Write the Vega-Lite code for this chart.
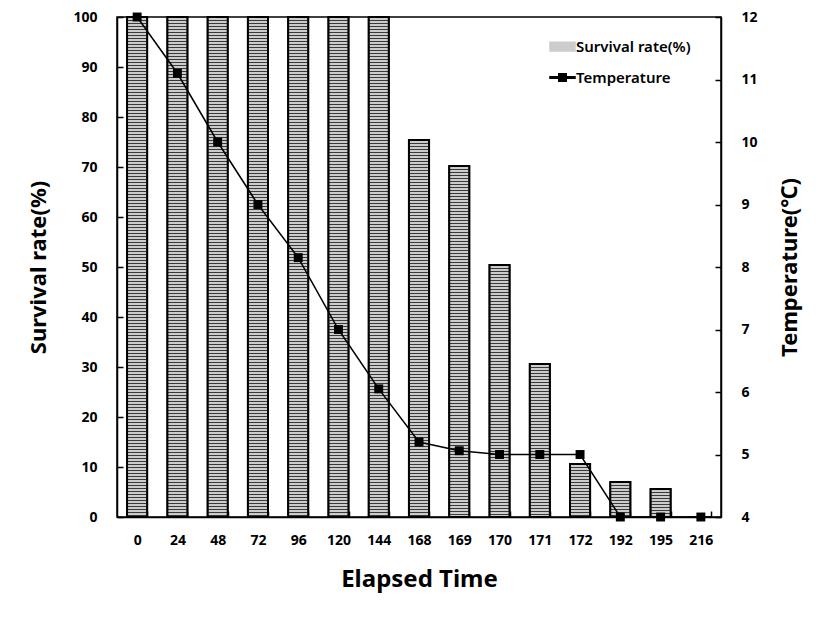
{
  "$schema": "https://vega.github.io/schema/vega-lite/v6.json",
  "width": 604,
  "height": 500,
  "autosize": {"type": "none"},
  "padding": {"left": 117, "top": 17, "right": 106, "bottom": 103},
  "background": "white",
  "config": {
    "view": {"stroke": "black", "strokeWidth": 1.5},
    "font": "Noto Sans",
    "axis": {
      "domainColor": "black",
      "domainWidth": 1.5,
      "tickColor": "black",
      "tickWidth": 1.5,
      "ticks": true,
      "zindex": 1,
      "labelColor": "black",
      "labelFont": "Noto Sans",
      "labelFontWeight": "bold",
      "labelFontSize": 14,
      "titleFont": "Noto Sans",
      "titleFontWeight": "bold",
      "titleFontSize": 22,
      "titleColor": "black",
      "grid": false
    }
  },
  "data": {
    "values": [
      {"time": "0", "survival": 100, "temp": 12},
      {"time": "24", "survival": 100, "temp": 11.1},
      {"time": "48", "survival": 100, "temp": 10},
      {"time": "72", "survival": 100, "temp": 9},
      {"time": "96", "survival": 100, "temp": 8.15},
      {"time": "120", "survival": 100, "temp": 7},
      {"time": "144", "survival": 100, "temp": 6.05},
      {"time": "168", "survival": 75.4, "temp": 5.2},
      {"time": "169", "survival": 70.2, "temp": 5.06},
      {"time": "170", "survival": 50.4, "temp": 5},
      {"time": "171", "survival": 30.6, "temp": 5},
      {"time": "172", "survival": 10.6, "temp": 5},
      {"time": "192", "survival": 7, "temp": 4},
      {"time": "195", "survival": 5.6, "temp": 4},
      {"time": "216", "survival": 0, "temp": 4}
    ]
  },
  "encoding": {
    "x": {
      "field": "time",
      "type": "ordinal",
      "sort": null,
      "scale": {"paddingInner": 0.5, "paddingOuter": 0.25},
      "axis": {
        "title": "Elapsed Time",
        "titleFontSize": 24,
        "titlePadding": 20,
        "labelAngle": 0,
        "tickBand": "extent",
        "tickSize": -6,
        "labelPadding": 22
      }
    }
  },
  "layer": [
    {
      "layer": [
        {
          "mark": {"type": "bar", "stroke": "black", "strokeWidth": 1.5},
          "encoding": {
            "color": {
              "datum": "Survival rate(%)",
              "type": "nominal",
              "scale": {"domain": ["Survival rate(%)", "Temperature"], "range": ["#cccccc", "black"]},
              "legend": {
                "title": null,
                "orient": "none",
                "legendX": 432,
                "legendY": 16,
                "labelFont": "Noto Sans",
                "labelFontSize": 15,
                "labelFontWeight": 600,
                "labelColor": "black",
                "rowPadding": 9,
                "symbolSize": 625,
                "symbolStrokeColor": "black",
                "symbolStrokeWidth": 1.5,
                "labelOffset": 0,
                "encode": {
                  "symbols": {
                    "update": {
                      "fill": {"signal": "datum.value === 'Temperature' ? 'black' : '#8c8c8c'"},
                      "stroke": {"signal": "'black'"},
                      "strokeWidth": {"value": 1.5},
                      "strokeOpacity": {"value": 1},
                      "opacity": {"value": 1},
                      "shape": {"signal": "datum.value === 'Temperature' ? 'M-1,-0.06H-0.3V-0.3H0.3V-0.06H1V0.06H0.3V0.3H-0.3V0.06H-1Z' : 'M-1,-0.35H1V0.35H-1Z M-1,0H1'"}
                    }
                  }
                }
              }
            }
          }
        },
        {
          "mark": {"type": "rule", "color": "#3a3a3a", "strokeWidth": 19, "strokeDash": [1, 2], "strokeCap": "butt"},
          "encoding": {
            "y2": {"datum": 0}
          }
        },
        {
          "mark": {"type": "bar", "filled": false, "stroke": "black", "strokeWidth": 2}
        }
      ],
      "encoding": {
        "y": {
          "field": "survival",
          "type": "quantitative",
          "scale": {"domain": [0, 100]},
          "axis": {
            "title": "Survival rate(%)",
            "values": [0, 10, 20, 30, 40, 50, 60, 70, 80, 90, 100],
            "tickSize": -6,
            "labelPadding": 26,
            "titlePadding": 22
          }
        }
      }
    },
    {
      "layer": [
        {
          "mark": {"type": "line", "color": "#3a3a3a", "strokeWidth": 1.5},
          "encoding": {
            "color": {"datum": "Temperature", "type": "nominal"}
          }
        },
        {
          "mark": {"type": "point", "shape": "square", "filled": true, "size": 80, "color": "black", "opacity": 1}
        }
      ],
      "encoding": {
        "y": {
          "field": "temp",
          "type": "quantitative",
          "scale": {"domain": [4, 12]},
          "axis": {
            "orient": "right",
            "title": "Temperature(℃)",
            "titleAngle": 270,
            "values": [4, 5, 6, 7, 8, 9, 10, 11, 12],
            "tickSize": -6,
            "labelPadding": 26,
            "titlePadding": 44
          }
        }
      }
    }
  ],
  "resolve": {"scale": {"y": "independent"}}
}
